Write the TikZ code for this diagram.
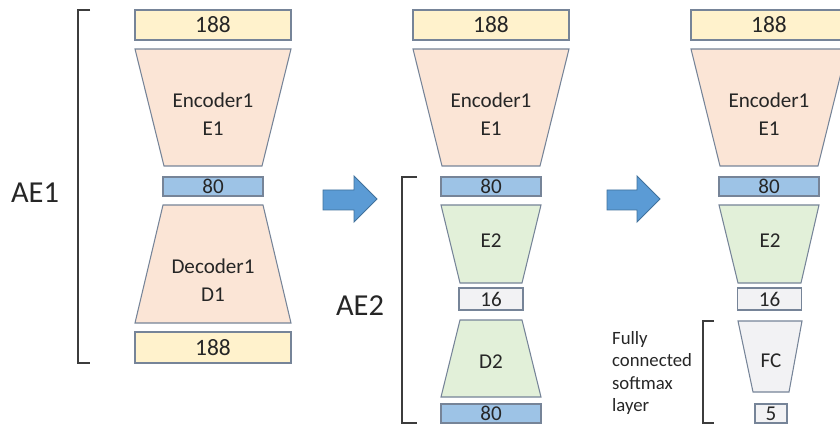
\documentclass[tikz,border=0pt]{standalone}
\usepackage{fontspec}
\setmainfont{Carlito}
\usetikzlibrary{positioning}
\definecolor{aeyellow}{HTML}{FFF2CC}
\definecolor{aesalmon}{HTML}{FBE5D6}
\definecolor{aeblue}{HTML}{9DC3E6}
\definecolor{aegreen}{HTML}{E2F0D9}
\definecolor{aegray}{HTML}{F2F2F4}
\definecolor{aeedge}{RGB}{118,132,152}
\definecolor{aetext}{RGB}{38,38,38}
\definecolor{aearrow}{HTML}{5B9BD5}
\definecolor{aearrowedge}{HTML}{41719C}

\begin{document}
\begin{tikzpicture}[x=.03cm,y=-.03cm,
    layer/.style={draw=aeedge,line width=.9pt,inner sep=0pt,text=aetext,font=\fontsize{18}{18}\selectfont},
    dims/.style 2 args={minimum width=#1*.03cm,minimum height=#2*.03cm},
    wide/.style={dims={156}{30},fill=aeyellow,font=\fontsize{20}{20}\selectfont},
    code/.style={dims={100}{19},fill=aeblue},
    part/.style={draw=aeedge,line width=.9pt},
    partlbl/.style={align=center,text=aetext,font=\fontsize{18}{24}\selectfont},
    aename/.style={text=aetext,font=\fontsize{26}{26}\selectfont},
    side/.style={draw=aetext!90,line width=1.2pt},
    blockarrow/.style={fill=aearrow,draw=aearrowedge,line width=.8pt}]
  \useasboundingbox (0,0) rectangle (840,427);
  \clip (0,0) rectangle (840,427);

  % first stage: AE1 = E1 + D1
  \node[layer,wide] (in1) at (213,25) {188};
  \draw[part,fill=aesalmon] (135,49) -- (291,49) -- (262,166) -- (164,166) -- cycle;
  \node[partlbl] (enc1) at (213,114) {Encoder1\\E1};
  \node[layer,code] (code1) at (213,186.5) {80};
  \draw[part,fill=aesalmon] (163,205) -- (263,205) -- (291,323) -- (135,323) -- cycle;
  \node[partlbl] (dec1) at (213,280) {Decoder1\\D1};
  \node[layer,wide,dims={156}{31}] (out1) at (213,347.5) {188};
  \draw[side] (90,10) -- (78,10) -- (78,363) -- (90,363);
  \node[aename] (ae1) at (35,193) {AE1};

  \draw[blockarrow] (323,190) -- (354,190) -- (354,176) -- (377,199) -- (354,222) -- (354,210) -- (323,210) -- cycle;

  % second stage: AE2 on the 80 codes
  \node[layer,wide] (in2) at (491,25) {188};
  \draw[part,fill=aesalmon] (413,49) -- (569,49) -- (540,166) -- (442,166) -- cycle;
  \node[partlbl] (enc2) at (491,114) {Encoder1\\E1};
  \node[layer,code] (code2) at (491,186.5) {80};
  \draw[part,fill=aegreen] (441,205) -- (541,205) -- (522,283) -- (460,283) -- cycle;
  \node[partlbl] (e2a) at (491,241) {E2};
  \node[layer,dims={64}{22},fill=aegray] (mid2) at (491,299) {16};
  \draw[part,fill=aegreen] (460,320) -- (522,320) -- (541,397) -- (441,397) -- cycle;
  \node[partlbl] (d2) at (491,362) {D2};
  \node[layer,code] (out2) at (491,413.5) {80};
  \draw[side] (417,177) -- (402,177) -- (402,423) -- (417,423);
  \node[aename] (ae2) at (360,306) {AE2};

  \draw[blockarrow] (607,190) -- (637,190) -- (637,176) -- (660,199) -- (637,222) -- (637,210) -- (607,210) -- cycle;

  % final network: E1 + E2 + softmax
  \node[layer,wide] (in3) at (769,25) {188};
  \draw[part,fill=aesalmon] (691,49) -- (847,49) -- (818,166) -- (720,166) -- cycle;
  \node[partlbl] (enc3) at (769,114) {Encoder1\\E1};
  \node[layer,code] (code3) at (769,186.5) {80};
  \draw[part,fill=aegreen] (719,205) -- (819,205) -- (801,283) -- (738,283) -- cycle;
  \node[partlbl] (e2b) at (770,241) {E2};
  \node[layer,dims={64}{22},fill=aegray] (mid3) at (769.5,299) {16};
  \draw[part,fill=aegray] (738,321) -- (802,321) -- (789,392) -- (753,392) -- cycle;
  \node[partlbl] (fc) at (771,361) {FC};
  \node[layer,dims={32}{19},fill=aegray] (cls) at (771,413.5) {5};
  \draw[side] (714,321) -- (703,321) -- (703,423) -- (714,423);
  \node[anchor=west,align=left,text=aetext,font=\fontsize{16}{18.8}\selectfont] (fcnote) at (608,373)
    {Fully\\connected\\softmax\\layer};
\end{tikzpicture}
\end{document}
